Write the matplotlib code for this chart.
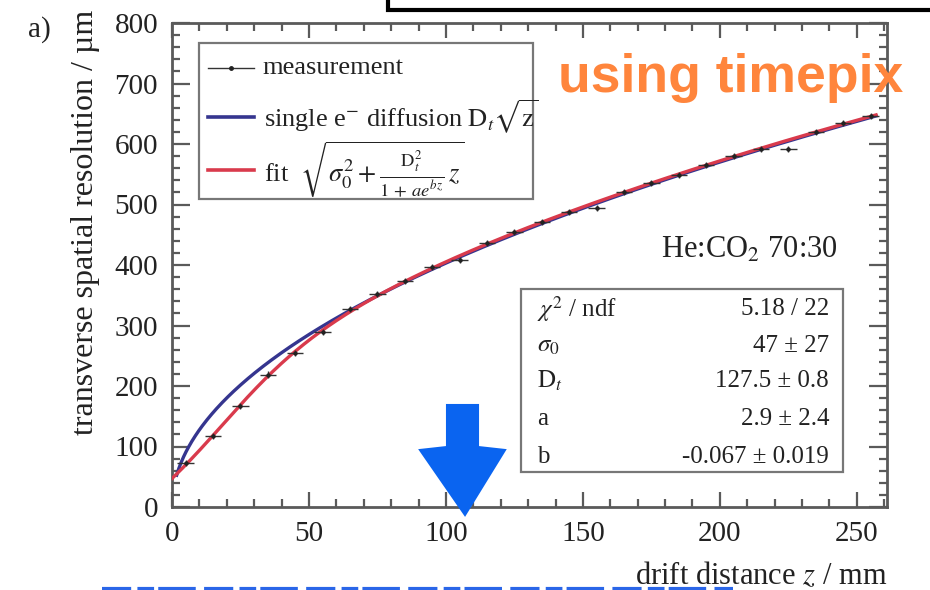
import numpy as np
import matplotlib
matplotlib.use("Agg")
import matplotlib.pyplot as plt
from matplotlib.lines import Line2D
from matplotlib.patches import Rectangle, Polygon

# measured transverse resolution vs drift distance
drift_mm = [5, 15, 25, 35, 45, 55, 65, 75, 85, 95, 105, 115, 125,
            135, 145, 155, 165, 175, 185, 195, 205, 215, 225, 235, 245, 255]
resolution_um = [72, 117, 167, 219, 255, 290, 327, 352, 373, 396, 408, 436, 455,
                 471, 488, 494, 520, 535, 549, 566, 580, 592, 592, 620, 634, 646]
drift_err = [3.0] * len(drift_mm)
resolution_err = [5.0] * len(drift_mm)

# fit parameters
sigma0 = 47.0
D_t = 127.5          # um / sqrt(cm)
a_par = 2.9
b_par = -0.067       # 1/mm

stat_names = [r"$\chi^{2}$ / ndf", r"$\sigma_{0}$", r"$\mathrm{D}_{t}$", "a", "b"]
stat_values = ["5.18 / 22", "47 ± 27", "127.5 ± 0.8", "2.9 ± 2.4", "-0.067 ± 0.019"]

x_ticks = [0, 50, 100, 150, 200, 250]
y_ticks = [0, 100, 200, 300, 400, 500, 600, 700, 800]

plt.rcParams["font.family"] = ["Liberation Serif", "DejaVu Serif"]
plt.rcParams["mathtext.fontset"] = "stix"

W, H = 930, 590
TXT = "#222222"
FRAME = "#5a5a5a"
BLUE = "#35358f"
RED = "#d93a4c"


def fx(p):
    return p / W


def fy(p):
    return 1 - p / H


fig = plt.figure(figsize=(W / 100, H / 100), dpi=100)
ax = fig.add_axes([fx(172), fy(507), (887 - 172) / W, (507 - 23) / H])
ax.set_xlim(0, 261)
ax.set_ylim(0, 800)

# curves from the fit parameters
z_red = np.linspace(0, 257, 600)
red = np.sqrt(sigma0 ** 2 + D_t ** 2 / (1 + a_par * np.exp(b_par * z_red)) * z_red / 10.0)
z_blue = np.linspace(1.7, 257, 600)
blue = D_t * np.sqrt(z_blue / 10.0)
ax.plot(z_blue, blue, color=BLUE, lw=2.4, zorder=3)
ax.plot(z_red, red, color=RED, lw=2.4, zorder=3)

ax.errorbar(drift_mm, resolution_um, xerr=drift_err, yerr=resolution_err,
            fmt="o", ms=2.2, color="#222222", ecolor="#333333",
            elinewidth=1.0, capsize=0, zorder=4)

# axis frame in a ROOT-like style
for s in ax.spines.values():
    s.set_color(FRAME)
    s.set_linewidth(2.0)
ax.set_xticks(x_ticks)
ax.set_xticks(np.arange(0, 261, 10), minor=True)
ax.set_yticks(y_ticks)
ax.set_yticks(np.arange(0, 801, 20), minor=True)
ax.tick_params(which="both", direction="in", top=True, right=True,
               color=FRAME, width=1.6, labelcolor=TXT, labelsize=21)
ax.tick_params(axis="x", which="major", length=11, pad=10)
ax.tick_params(axis="x", which="minor", length=5.5)
ax.tick_params(axis="y", which="major", length=13, pad=10)
ax.tick_params(axis="y", which="minor", length=6)
ax.set_yticklabels(["0"] + [str(v) for v in y_ticks[1:]])

fig.text(fx(887), fy(576), r"drift distance $z$ / mm", ha="right", va="center",
         fontsize=22, color=TXT)
fig.text(fx(85), fy(10), "transverse spatial resolution / µm", rotation=90,
         ha="center", va="top", fontsize=23, color=TXT)
fig.text(fx(28), fy(30), "a)", ha="left", va="center", fontsize=21, color=TXT)

# legend
fig.patches.append(Rectangle((fx(199), fy(199)), (533 - 199) / W, (199 - 43) / H,
                             transform=fig.transFigure, fill=True, facecolor="white",
                             edgecolor="#777777", lw=1.6, zorder=5))
fig.lines.append(Line2D([fx(208), fx(254)], [fy(68), fy(68)], transform=fig.transFigure,
                        color="#333333", lw=1.0, marker="", zorder=6))
fig.lines.append(Line2D([fx(231)], [fy(68)], transform=fig.transFigure,
                        color="#222222", marker="o", ms=2.5, zorder=6))
fig.lines.append(Line2D([fx(208), fx(254)], [fy(117), fy(117)], transform=fig.transFigure,
                        color=BLUE, lw=2.6, zorder=6))
fig.lines.append(Line2D([fx(208), fx(254)], [fy(170), fy(170)], transform=fig.transFigure,
                        color=RED, lw=2.6, zorder=6))
fig.text(fx(262), fy(68), "measurement", ha="left", va="center", fontsize=19,
         color=TXT, zorder=7)
fig.text(fx(264), fy(117), r"single e$^{-}$ diffusion $\mathrm{D}_{t}\sqrt{\mathrm{z}}$",
         ha="left", va="center", fontsize=19, color=TXT, zorder=7)
fig.text(fx(264), fy(170),
         r"fit  $\sqrt{\sigma_{0}^{2}+\frac{\mathrm{D}_{t}^{2}}{1\,+\,a e^{bz}}\,z}$",
         ha="left", va="center", fontsize=19, color=TXT, zorder=7)

# gas label
fig.text(fx(838), fy(250), r"He:CO$_{2}$ 70:30", ha="right", va="center",
         fontsize=22, color=TXT)

# fit statistics box
fig.patches.append(Rectangle((fx(521), fy(472)), (843 - 521) / W, (472 - 289) / H,
                             transform=fig.transFigure, fill=True, facecolor="white",
                             edgecolor="#777777", lw=1.6, zorder=5))
row_y = [309, 346, 381, 419, 457]
for name, val, yy in zip(stat_names, stat_values, row_y):
    fig.text(fx(537), fy(yy), name, ha="left", va="center", fontsize=18,
             color=TXT, zorder=7)
    fig.text(fx(829), fy(yy), val, ha="right", va="center", fontsize=18,
             color=TXT, zorder=7)

# annotations on top of the figure
fig.text(fx(558), fy(92), "using timepix", ha="left", va="baseline",
         fontsize=38.5, fontweight="bold", color="#ff853c",
         family="Liberation Sans", zorder=10)

arrow_px = [(447, 405), (478, 405), (478, 447), (505, 450), (465, 515),
            (420, 450), (447, 447)]
fig.patches.append(Polygon([(fx(x), fy(y)) for x, y in arrow_px], closed=True,
                           transform=fig.transFigure, facecolor="#0a64f0",
                           edgecolor="#0a64f0", lw=1.5, zorder=10))

fig.lines.append(Line2D([fx(388), fx(388), fx(935)], [fy(-5), fy(10), fy(10)],
                        transform=fig.transFigure, color="black", lw=3,
                        solid_joinstyle="miter", zorder=10))
fig.lines.append(Line2D([fx(102), fx(733)], [fy(588.5), fy(588.5)],
                        transform=fig.transFigure, color="#2a66e8", lw=3,
                        dashes=[7, 1.5, 4, 1, 9, 2], zorder=10))

fig.savefig("out.png", dpi=100)
